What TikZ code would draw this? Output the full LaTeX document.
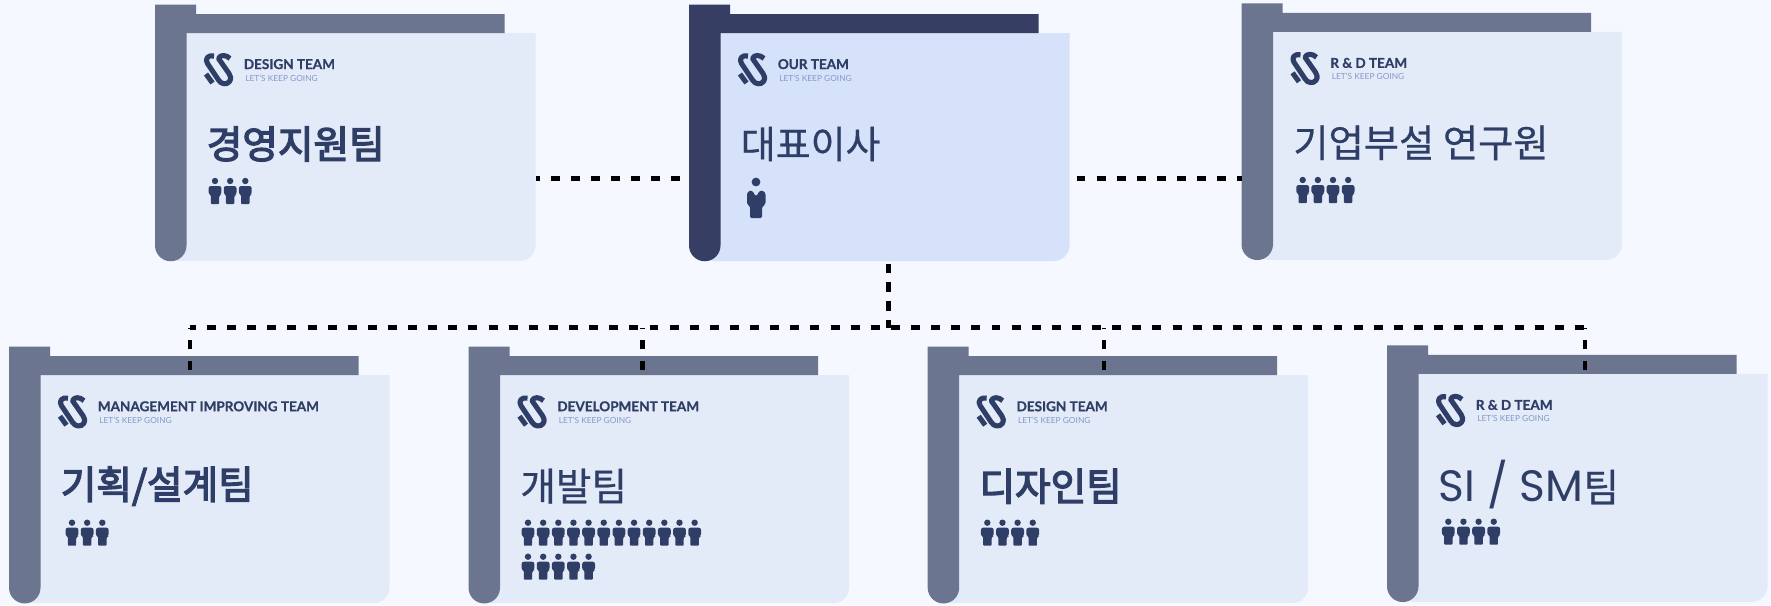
\documentclass[tikz,border=0pt]{standalone}
\usepackage{fontspec}
\setmainfont[BoldFeatures={FakeBold=.7}]{Lato}
\newfontfamily\zkr[FakeBold=.6]{Noto Sans CJK KR}
\newfontfamily\zkrm[FakeBold=3.5]{Noto Sans CJK KR}
\newfontfamily\zpop{Poppins}
\definecolor{zbg}{HTML}{F5F8FE}
\definecolor{zink}{HTML}{2F3E66}
\definecolor{zsub}{HTML}{859ACA}
\definecolor{zbar}{HTML}{6C7590}
\definecolor{zbard}{HTML}{363F63}
\definecolor{zpan}{HTML}{E3EAF8}
\definecolor{zpand}{HTML}{D5E2FA}
% #1 name, #2/#3 corner, #4 bar, #5 panel, #6 team, #7 heading
\newcommand{\zCard}[7]{
  \begin{scope}[shift={(#2,#3)}]
    \fill[#5] (20,28.5) -- (380.5,28.5) {[rounded corners=9pt] -- (380.5,256.5) -- (10,256.5)} -- cycle;
    \fill[#4] (0,0) -- (41,0) -- (41,9.5) -- (349.5,9.5) -- (349.5,28.5) -- (31.5,28.5) -- (31.5,241) arc (0:180:15.75) -- cycle;
    \coordinate (#1ne) at (380.5,28.5);
    \coordinate (#1w) at (0,28.5);
    \draw[zlogo] (59,51.5) .. controls (53,50) and (49.5,54.5) .. (52.5,59) -- (63.5,75.5) .. controls (66,80) and (72,80.5) .. (74.5,77) .. controls (76.5,74) and (75.5,71) .. (74,69) -- (63.5,54) .. controls (65,50) and (71,50) .. (75,54);
    \draw[zlogo] (51,69.5) -- (57.5,78.5);
    \node (#1team) [zteam] at (88.5,64.5) {#6};
    \node (#1sub) [zsub] at (90,76.5) {LET'S KEEP GOING};
    \node (#1head) [zhead] at (51.5,139.5) {#7};
  \end{scope}
}
\newcommand{\zMan}[2]{
  \fill[zink,shift={(#1,#2)}] (0,0) circle (3.2)
    (-6.4,5) [rounded corners=1.3pt] -- (6.4,5) -- (6.4,13.5) -- (4.2,14) [rounded corners=.5pt] -- (4.2,23) -- (-4.2,23) -- (-4.2,14) [rounded corners=1.3pt] -- (-6.4,13.5) -- cycle;
}
\begin{document}
\begin{tikzpicture}[x=.02cm, y=-.02cm, zlink/.style={line width=2.8pt, black, dash pattern=on 5.1pt off 6.35pt}, zdown/.style={zlink, line width=2.6pt, dash pattern=on 5.4pt off 5.3pt}, zdrop/.style={zlink, line width=2.6pt, dash pattern=on 5.1pt off 6.8pt}, zlogo/.style={zink, line width=2.9pt, line join=round}, zteam/.style={anchor=base west, inner sep=0, zink, font=\fontsize{7.7}{8}\selectfont\bfseries}, zsub/.style={anchor=base west, inner sep=0, text=zsub, font=\fontsize{4.75}{5}\selectfont}, zhead/.style={anchor=west, inner sep=0, zink}]
\useasboundingbox[fill=zbg] (0,0) rectangle (1771,605);
\zCard{des}{155}{4.5}{zbar}{zpan}{DESIGN TEAM}{\zkrm\fontsize{22}{22}\selectfont 경영지원팀}
\zCard{our}{689}{4.5}{zbard}{zpand}{OUR TEAM}{\zkr\fontsize{21.6}{22}\selectfont 대표이사}
\zCard{rnd}{1241.5}{3.3}{zbar}{zpan}{R \& D TEAM}{\zkr\fontsize{21.8}{22}\selectfont 기업부설 연구원}
\zCard{mng}{9}{346.7}{zbar}{zpan}{MANAGEMENT IMPROVING TEAM}{\zkrm\fontsize{22}{22}\selectfont 기획/설계팀}
\zCard{dev}{468.5}{346.7}{zbar}{zpan}{DEVELOPMENT TEAM}{\zkr\fontsize{22}{22}\selectfont 개발팀}
\zCard{dsg}{927.7}{346.7}{zbar}{zpan}{DESIGN TEAM}{\zkrm\fontsize{22}{22}\selectfont 디자인팀}
\zCard{smt}{1387}{345.3}{zbar}{zpan}{R \& D TEAM}{{\zpop\fontsize{25}{25}\selectfont SI / SM}{\zkr\fontsize{22}{22}\selectfont 팀}}
\foreach \x/\y/\n in {215/181/3,1302.7/180/4,72/522.7/3,528/522.7/12,528/556.7/5,987.3/522.7/4,1448.3/521.7/4}{
  \foreach \i in {1,...,\n}{\zMan{\x+15.15*\i-15.15}{\y}}
}
% chief
\fill[zink] (756,182) circle (4.4) (747,192) [rounded corners=1.5pt] -- (752,190) -- (756,197) -- (760,190) -- (765.5,192) -- (765.5,205) -- (762,206) [rounded corners=.8pt] -- (762,218) -- (750,218) -- (750,206) [rounded corners=1.5pt] -- (747,205) -- cycle;
\coordinate (sidel) at (535,178.5);
\coordinate (sider) at (1076.5,178.5);
\coordinate (bus) at (888.3,327.5);
\coordinate (dropm) at (190,370);
\coordinate (dropd) at (642.7,370);
\coordinate (dropg) at (1104,370);
\coordinate (drops) at (1585,370);
\draw[zlink, dash phase=2.8pt] (desne |- sidel) -- (ourw |- sidel);
\draw[zlink] (sider) -- (rndw |- sider);
\draw[zdown] (bus |- 0,263.5) -- (bus);
\draw[zlink, dash phase=1.8pt] (dropm |- bus) -- (drops |- bus);
\foreach \d in {dropm,dropd,dropg,drops}{\draw[zdrop] (\d) -- (\d |- bus);}
\end{tikzpicture}
\end{document}
